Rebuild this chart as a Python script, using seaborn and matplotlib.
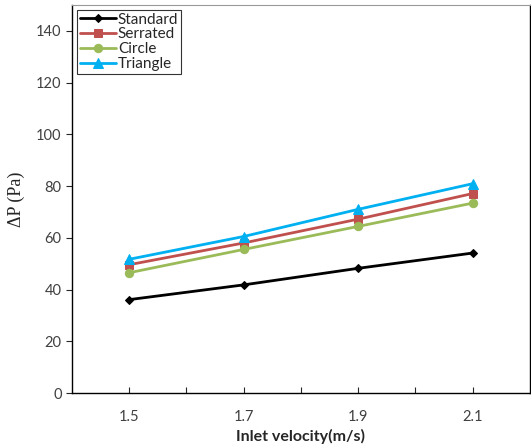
import pandas as pd
import numpy as np
import matplotlib
matplotlib.use("Agg")
import matplotlib.pyplot as plt
import seaborn as sns

# Data
velocity = [1.5, 1.7, 1.9, 2.1]
standard = [36.1, 41.8, 48.2, 54.1]
serrated = [49.6, 58.0, 67.2, 77.1]
circle = [46.5, 55.5, 64.4, 73.4]
triangle = [51.7, 60.5, 71.0, 80.9]

series_names = ["Standard", "Serrated", "Circle", "Triangle"]
series_values = [standard, serrated, circle, triangle]
colors = ["#000000", "#C0504D", "#9BBB59", "#00B0F0"]
markers = ["D", "s", "o", "^"]
sizes = [4.5, 6, 6, 6.5]

df = pd.DataFrame({
    "velocity": np.tile(velocity, len(series_names)),
    "dp": np.concatenate(series_values),
    "shape": np.repeat(series_names, len(velocity)),
})

sns.set_style("ticks")
plt.rcParams["font.family"] = ["Lato", "DejaVu Sans"]

fig = plt.figure(figsize=(5.31, 4.47), dpi=100)
ax = fig.add_axes([0.1356, 0.1208, 0.862, 0.868])

for name, c, m, s in zip(series_names, colors, markers, sizes):
    sub = df[df["shape"] == name]
    sns.lineplot(data=sub, x="velocity", y="dp", ax=ax, color=c, marker=m,
                 markersize=s, markeredgecolor=c, linewidth=2, label=name)

ax.set_xlim(1.4, 2.2)
ax.set_ylim(0, 150)
ax.set_xticks([1.5, 1.6, 1.7, 1.8, 1.9, 2.0, 2.1])
ax.set_xticklabels(["1.5", "", "1.7", "", "1.9", "", "2.1"])
ax.set_yticks(range(0, 141, 20))
ax.tick_params(axis="x", direction="in", length=4, labelsize=10.5, labelcolor="#404040", pad=12)
ax.tick_params(axis="y", direction="out", length=4, labelsize=10.5, labelcolor="#404040")
for sp in ["left", "bottom", "right"]:
    ax.spines[sp].set_color("#000000")
    ax.spines[sp].set_linewidth(1.0)
ax.spines["top"].set_color("#999999")

ax.set_xlabel("Inlet velocity(m/s)", fontsize=11.5, fontweight="bold", labelpad=4)
ax.set_ylabel("ΔP (Pa)", fontsize=13, family=["Liberation Serif", "DejaVu Serif"], labelpad=8)

leg = ax.legend(loc="upper left", fontsize=11, frameon=True, fancybox=False,
                edgecolor="#000000", borderaxespad=0.3, handlelength=2.4,
                handletextpad=0.1, labelspacing=0.05, borderpad=0.2)
leg.get_frame().set_linewidth(0.8)

fig.savefig("out.png", dpi=100)
